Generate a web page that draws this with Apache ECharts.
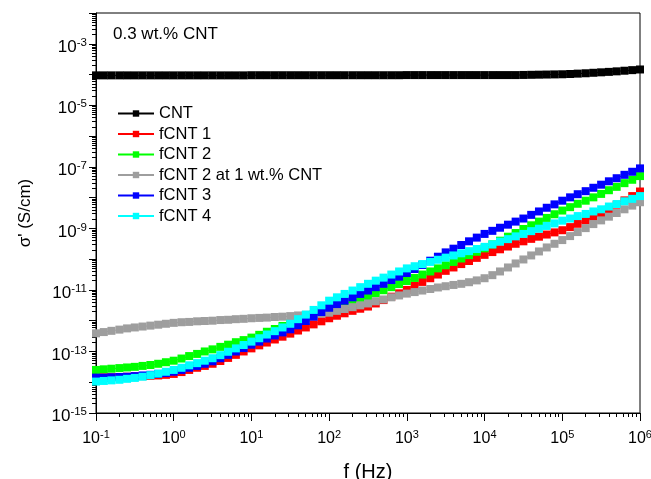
<!DOCTYPE html>
<html>
<head>
<meta charset="utf-8">
<script src="https://cdn.jsdelivr.net/npm/echarts@6/dist/echarts.min.js"></script>
<style>
html,body{margin:0;padding:0;background:#fff;}
#chart{width:651px;height:479px;}
</style>
</head>
<body>
<div id="chart"></div>
<script>
// Frequency (Hz)
const freq = [
  1e-1,1.26e-1,1.58e-1,2e-1,2.51e-1,3.16e-1,3.98e-1,5.01e-1,6.31e-1,7.94e-1,
  1,1.26,1.58,2,2.51,3.16,3.98,5.01,6.31,7.94,
  10,12.6,15.8,20,25.1,31.6,39.8,50.1,63.1,79.4,
  100,126,158,200,251,316,398,501,631,794,
  1e3,1.26e3,1.58e3,2e3,2.51e3,3.16e3,3.98e3,5.01e3,6.31e3,7.94e3,
  1e4,1.26e4,1.58e4,2e4,2.51e4,3.16e4,3.98e4,5.01e4,6.31e4,7.94e4,
  1e5,1.26e5,1.58e5,2e5,2.51e5,3.16e5,3.98e5,5.01e5,6.31e5,7.94e5,
  1e6
];

const cnt = [
  9.4e-5,9.4e-5,9.4e-5,9.4e-5,9.4e-5,9.4e-5,9.4e-5,9.4e-5,9.4e-5,9.4e-5,
  9.4e-5,9.4e-5,9.4e-5,9.4e-5,9.4e-5,9.4e-5,9.4e-5,9.4e-5,9.4e-5,9.4e-5,
  9.5e-5,9.5e-5,9.5e-5,9.5e-5,9.5e-5,9.5e-5,9.5e-5,9.5e-5,9.5e-5,9.5e-5,
  9.5e-5,9.5e-5,9.5e-5,9.5e-5,9.5e-5,9.5e-5,9.5e-5,9.5e-5,9.5e-5,9.5e-5,
  9.6e-5,9.6e-5,9.6e-5,9.6e-5,9.6e-5,9.6e-5,9.6e-5,9.6e-5,9.6e-5,9.6e-5,
  9.6e-5,9.6e-5,9.6e-5,9.6e-5,9.6e-5,9.7e-5,9.8e-5,9.9e-5,1.0e-4,1.01e-4,
  1.02e-4,1.04e-4,1.07e-4,1.10e-4,1.14e-4,1.18e-4,1.22e-4,1.27e-4,1.33e-4,1.39e-4,
  1.46e-4
];

const fcnt1 = [
  1.41e-14,1.45e-14,1.45e-14,1.48e-14,1.51e-14,1.55e-14,1.58e-14,1.62e-14,1.66e-14,1.74e-14,
  1.86e-14,2.14e-14,2.51e-14,2.95e-14,3.39e-14,3.98e-14,4.90e-14,6.17e-14,7.76e-14,1.00e-13,
  1.26e-13,1.58e-13,1.95e-13,2.45e-13,3.02e-13,3.80e-13,4.79e-13,6.03e-13,7.59e-13,9.55e-13,
  1.20e-12,1.45e-12,1.74e-12,2.09e-12,2.45e-12,2.88e-12,3.63e-12,4.68e-12,6.03e-12,7.76e-12,
  1.00e-11,1.35e-11,1.82e-11,2.40e-11,3.16e-11,4.17e-11,5.37e-11,6.92e-11,8.71e-11,1.10e-10,
  1.38e-10,1.70e-10,2.09e-10,2.57e-10,3.16e-10,3.80e-10,4.57e-10,5.37e-10,6.31e-10,7.41e-10,
  8.71e-10,1.10e-9,1.41e-9,1.82e-9,2.40e-9,3.16e-9,4.27e-9,5.89e-9,8.13e-9,1.12e-8,
  1.58e-8
];

const fcnt2 = [
  2.51e-14,2.63e-14,2.75e-14,2.88e-14,3.02e-14,3.16e-14,3.39e-14,3.63e-14,3.98e-14,4.47e-14,
  5.01e-14,5.89e-14,7.08e-14,8.32e-14,1.00e-13,1.17e-13,1.41e-13,1.66e-13,2.00e-13,2.34e-13,
  2.82e-13,3.47e-13,4.37e-13,5.37e-13,6.76e-13,8.32e-13,1.02e-12,1.26e-12,1.58e-12,1.95e-12,
  2.40e-12,2.88e-12,3.55e-12,4.27e-12,5.13e-12,6.17e-12,7.76e-12,9.77e-12,1.23e-11,1.55e-11,
  1.95e-11,2.45e-11,3.16e-11,3.98e-11,5.01e-11,6.31e-11,8.13e-11,1.05e-10,1.35e-10,1.74e-10,
  2.24e-10,3.02e-10,3.98e-10,5.37e-10,7.08e-10,9.55e-10,1.26e-9,1.66e-9,2.19e-9,2.88e-9,
  3.80e-9,4.90e-9,6.31e-9,7.94e-9,1.02e-8,1.32e-8,1.74e-8,2.24e-8,2.95e-8,3.80e-8,
  5.01e-8
];

const fcnt2at1 = [
  3.89e-13,4.27e-13,4.68e-13,5.13e-13,5.62e-13,6.03e-13,6.46e-13,6.92e-13,7.41e-13,7.94e-13,
  8.51e-13,8.91e-13,9.12e-13,9.55e-13,9.77e-13,1.00e-12,1.05e-12,1.07e-12,1.12e-12,1.15e-12,
  1.20e-12,1.23e-12,1.26e-12,1.32e-12,1.35e-12,1.41e-12,1.48e-12,1.55e-12,1.62e-12,1.70e-12,
  1.82e-12,2.09e-12,2.40e-12,2.75e-12,3.16e-12,3.63e-12,4.27e-12,4.90e-12,5.75e-12,6.61e-12,
  7.59e-12,8.51e-12,9.55e-12,1.07e-11,1.20e-11,1.32e-11,1.45e-11,1.58e-11,1.78e-11,2.04e-11,
  2.40e-11,3.02e-11,3.98e-11,5.37e-11,7.24e-11,9.77e-11,1.32e-10,1.78e-10,2.40e-10,3.16e-10,
  4.17e-10,5.62e-10,7.59e-10,1.02e-9,1.38e-9,1.82e-9,2.40e-9,3.16e-9,4.17e-9,5.50e-9,
  7.08e-9
];

const fcnt3 = [
  1.41e-14,1.41e-14,1.45e-14,1.48e-14,1.51e-14,1.58e-14,1.66e-14,1.74e-14,1.86e-14,2.00e-14,
  2.19e-14,2.51e-14,2.95e-14,3.39e-14,3.98e-14,4.79e-14,6.03e-14,7.76e-14,1.00e-13,1.29e-13,
  1.66e-13,2.09e-13,2.63e-13,3.31e-13,4.17e-13,5.25e-13,7.08e-13,9.77e-13,1.35e-12,1.91e-12,
  2.63e-12,3.47e-12,4.47e-12,5.75e-12,7.41e-12,9.55e-12,1.23e-11,1.58e-11,2.09e-11,2.69e-11,
  3.55e-11,4.79e-11,6.46e-11,8.91e-11,1.20e-10,1.66e-10,2.19e-10,2.88e-10,3.80e-10,5.01e-10,
  6.61e-10,8.32e-10,1.05e-9,1.32e-9,1.66e-9,2.09e-9,2.75e-9,3.55e-9,4.68e-9,6.03e-9,
  7.94e-9,1.02e-8,1.29e-8,1.62e-8,2.09e-8,2.63e-8,3.39e-8,4.27e-8,5.50e-8,6.92e-8,
  8.91e-8
];

const fcnt4 = [
  1.05e-14,1.10e-14,1.15e-14,1.20e-14,1.29e-14,1.38e-14,1.51e-14,1.70e-14,1.91e-14,2.19e-14,
  2.51e-14,2.95e-14,3.55e-14,4.17e-14,5.01e-14,6.03e-14,7.59e-14,9.77e-14,1.26e-13,1.62e-13,
  2.09e-13,2.69e-13,3.55e-13,4.57e-13,6.03e-13,7.94e-13,1.12e-12,1.58e-12,2.24e-12,3.16e-12,
  4.47e-12,5.75e-12,7.41e-12,9.55e-12,1.23e-11,1.58e-11,2.00e-11,2.51e-11,3.16e-11,3.98e-11,
  5.01e-11,5.89e-11,6.92e-11,8.13e-11,9.55e-11,1.12e-10,1.32e-10,1.55e-10,1.82e-10,2.14e-10,
  2.51e-10,3.02e-10,3.72e-10,4.47e-10,5.50e-10,6.61e-10,8.13e-10,9.77e-10,1.20e-9,1.45e-9,
  1.78e-9,2.09e-9,2.51e-9,2.95e-9,3.55e-9,4.17e-9,5.13e-9,6.17e-9,7.59e-9,9.12e-9,
  1.12e-8
];

const seriesNames = ['CNT','fCNT 1','fCNT 2','fCNT 2 at 1 wt.% CNT','fCNT 3','fCNT 4'];
const seriesData = [cnt, fcnt1, fcnt2, fcnt2at1, fcnt3, fcnt4];
const seriesColors = ['#000000','#ff0000','#00ff00','#9e9e9e','#0000ff','#00ffff'];

const xMin = 1e-1, xMax = 1e6;
const yMin = 1e-15, yMax = 1e-2;
const minorMantissas = [2,3,4,5,6,7,8,9];
const xDecades = [-1,0,1,2,3,4,5];
const yDecades = [-15,-14,-13,-12,-11,-10,-9,-8,-7,-6,-5,-4,-3];

const FONT = 'Liberation Sans, Arial, sans-serif';

// log minor tick positions, in decades (exponent space) for overlay value axes
const yMinorPos = [];
yDecades.forEach(d => minorMantissas.forEach(m => yMinorPos.push(d + Math.log10(m))));
const xMinorPos = [];
xDecades.forEach(d => minorMantissas.forEach(m => xMinorPos.push(d + Math.log10(m))));

function supLabel(v) {
  const e = Math.round(Math.log10(v));
  return '{b|10}{s|' + e + '}';
}

const richX = {
  b: { fontSize: 16, fontFamily: FONT, color: '#000', lineHeight: 18, verticalAlign: 'bottom' },
  s: { fontSize: 11, fontFamily: FONT, color: '#000', lineHeight: 18, verticalAlign: 'top' }
};
const richY = {
  b: { fontSize: 17, fontFamily: FONT, color: '#000', lineHeight: 19, verticalAlign: 'bottom' },
  s: { fontSize: 11.5, fontFamily: FONT, color: '#000', lineHeight: 19, verticalAlign: 'top' }
};

const series = seriesNames.map((name, k) => ({
  name: name,
  type: 'line',
  xAxisIndex: 0,
  yAxisIndex: 0,
  data: freq.map((f, i) => [f, seriesData[k][i]]),
  symbol: 'rect',
  symbolSize: 8,
  showSymbol: true,
  showAllSymbol: true,
  lineStyle: { color: seriesColors[k], width: 1 },
  itemStyle: { color: seriesColors[k] },
  emphasis: { disabled: true },
  clip: true,
  z: 2 + k
}));

function minorAxis(min, max, position, values) {
  return {
    type: 'value', min: min, max: max, position: position, offset: 0, silent: true,
    axisLine: { show: true, onZero: false, lineStyle: { color: 'rgba(0,0,0,0)', width: 1 } },
    axisLabel: { show: false },
    splitLine: { show: false },
    axisTick: { show: true, inside: false, length: 4, customValues: values, lineStyle: { color: '#000', width: 1 } }
  };
}

const chart = echarts.init(document.getElementById('chart'), null, { renderer: 'canvas' });
chart.setOption({
  animation: false,
  backgroundColor: '#ffffff',
  grid: {
    left: 96, right: 11, top: 13, bottom: 66,
    outerBoundsMode: 'none',
    show: true, borderColor: '#000', borderWidth: 1, backgroundColor: 'transparent'
  },
  legend: {
    data: seriesNames,
    orient: 'vertical',
    left: 112, top: 100,
    itemWidth: 36, itemHeight: 8, itemGap: 3.5,
    textStyle: { fontSize: 16.5, fontFamily: FONT, color: '#000' },
    selectedMode: false
  },
  graphic: [{
    type: 'text', left: 113, top: 26,
    style: { text: '0.3 wt.% CNT', fontSize: 17, fontFamily: FONT, fill: '#000' }
  }],
  xAxis: [{
    type: 'log', logBase: 10, min: xMin, max: xMax, interval: 1,
    position: 'bottom',
    name: 'f (Hz)', nameLocation: 'middle', nameGap: 49,
    nameTextStyle: { fontSize: 20, fontFamily: FONT, color: '#000' },
    axisLine: { show: true, onZero: false, lineStyle: { color: '#000', width: 1 } },
    axisTick: { show: true, inside: false, length: 8, lineStyle: { color: '#000', width: 1 } },
    axisLabel: { margin: 16, formatter: supLabel, rich: richX },
    splitLine: { show: false },
    minorTick: { show: false }
  }, minorAxis(-1, 6, 'bottom', xMinorPos)],
  yAxis: [{
    type: 'log', logBase: 10, min: yMin, max: yMax, interval: 1,
    position: 'left',
    name: "σ' (S/cm)", nameLocation: 'middle', nameGap: 62, nameRotate: 90,
    nameTextStyle: { fontSize: 17, fontFamily: FONT, color: '#000' },
    axisLine: { show: true, onZero: false, lineStyle: { color: '#000', width: 1 } },
    axisTick: { show: true, inside: false, length: 7, lineStyle: { color: '#000', width: 1 } },
    axisLabel: {
      margin: 9,
      padding: [5, 0, 0, 0],
      formatter: function (v) {
        const e = Math.round(Math.log10(v));
        return (e % 2 === 0) ? '' : supLabel(v);
      },
      rich: richY
    },
    splitLine: { show: false },
    minorTick: { show: false }
  }, minorAxis(-15, -2, 'left', yMinorPos)],
  series: series
});
</script>
</body>
</html>
